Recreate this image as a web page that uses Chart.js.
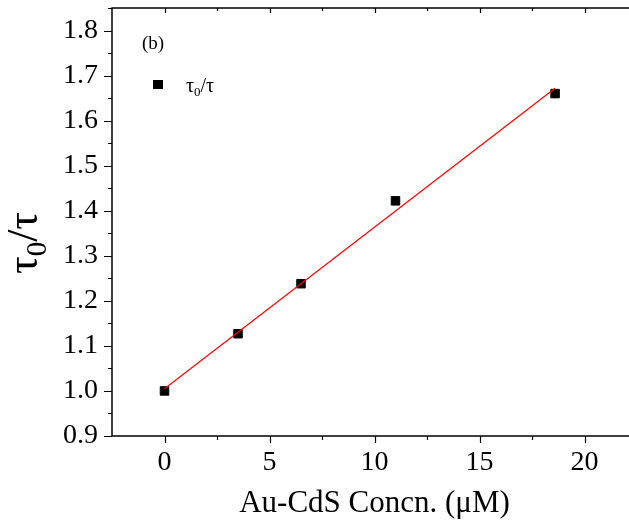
<!DOCTYPE html>
<html>
<head>
<meta charset="utf-8">
<script src="https://cdn.jsdelivr.net/npm/chart.js@4.4.1/dist/chart.umd.min.js"></script>
<style>
  html, body { margin: 0; padding: 0; background: #fff; overflow: hidden; }
  #wrap { width: 645px; height: 528px; }
</style>
</head>
<body>
<div id="wrap"><canvas id="tau-chart" width="645" height="528"></canvas></div>
<script>
// Au-CdS concentration (uM) and lifetime ratio tau0/tau
const concentrations = [0, 3.5, 6.5, 11, 18.6]
const tauRatio = [1.0, 1.127, 1.238, 1.422, 1.66]

// Linear fit drawn through the points
const fitX = [0, 18.6]
const fitY = [1.005, 1.672]

const xTicks = [0, 5, 10, 15, 20]
const yTicks = [0.9, 1.0, 1.1, 1.2, 1.3, 1.4, 1.5, 1.6, 1.7, 1.8]

const SERIF = "'Liberation Serif', 'Times New Roman', serif"

// draws text like "τ0/τ" with the 0 as a subscript
function drawTauRatio(ctx, x, y, size, align) {
  const big = size + "px " + SERIF
  const small = Math.round(size * 0.65) + "px " + SERIF
  ctx.font = big
  const w1 = ctx.measureText("τ").width
  const w3 = ctx.measureText("/τ").width
  ctx.font = small
  const w2 = ctx.measureText("0").width
  let start = x
  if (align === "center") start = x - (w1 + w2 + w3) / 2
  ctx.textAlign = "left"
  ctx.textBaseline = "alphabetic"
  ctx.font = big
  ctx.fillText("τ", start, y)
  ctx.font = small
  ctx.fillText("0", start + w1, y + size * 0.2)
  ctx.font = big
  ctx.fillText("/τ", start + w1 + w2, y)
}

const framePlugin = {
  id: "frame",
  afterDraw(chart) {
    const { ctx, chartArea: a, scales } = chart
    const xs = scales.x, ys = scales.y
    ctx.save()
    ctx.strokeStyle = "#000"
    ctx.lineWidth = 1.5
    ctx.strokeRect(a.left, a.top, a.right - a.left, a.bottom - a.top)

    ctx.lineWidth = 1.2
    ctx.beginPath()
    // x ticks: major/minor outward at bottom, inward at top
    for (let v = 0; v <= 22.5; v += 2.5) {
      const px = Math.round(xs.getPixelForValue(v)) + 0.5
      const major = v % 5 === 0
      ctx.moveTo(px, a.bottom)
      ctx.lineTo(px, a.bottom + (major ? 7 : 4))
      ctx.moveTo(px, a.top)
      ctx.lineTo(px, a.top + (major ? 5 : 3))
    }
    for (let i = 0; i <= 19; i++) {
      const v = 0.9 + i * 0.05
      const py = Math.round(ys.getPixelForValue(v)) + 0.5
      const major = i % 2 === 0
      ctx.moveTo(a.left, py)
      ctx.lineTo(a.left - (major ? 8 : 4), py)
    }
    ctx.stroke()

    // y axis title
    ctx.fillStyle = "#000"
    ctx.save()
    ctx.translate(37, 243)
    ctx.rotate(-Math.PI / 2)
    drawTauRatio(ctx, 0, 0, 44, "center")
    ctx.restore()

    // panel label
    ctx.font = "19px " + SERIF
    ctx.textAlign = "left"
    ctx.fillText("(b)", 142, 49)

    // legend
    ctx.fillRect(153, 80, 10, 9)
    drawTauRatio(ctx, 186, 92, 20, "left")
    ctx.restore()
  }
}

new Chart(document.getElementById("tau-chart"), {
  data: {
    datasets: [
      {
        type: "line",
        label: "fit",
        data: fitX.map((x, i) => ({ x, y: fitY[i] })),
        borderColor: "#ff0000",
        borderWidth: 1.2,
        pointRadius: 0,
        fill: false
      },
      {
        type: "scatter",
        label: "τ0/τ",
        data: concentrations.map((x, i) => ({ x, y: tauRatio[i] })),
        pointStyle: "rect",
        pointRadius: 6,
        borderWidth: 1,
        borderColor: "#000",
        backgroundColor: "#000"
      }
    ]
  },
  options: {
    responsive: false,
    animation: false,
    layout: { padding: { top: 8, right: 8, left: 0, bottom: 0 } },
    plugins: { legend: { display: false }, tooltip: { enabled: false } },
    scales: {
      x: {
        type: "linear",
        min: -2.5,
        max: 22.5,
        afterBuildTicks: s => { s.ticks = xTicks.map(v => ({ value: v })) },
        afterFit: s => { s.height = 92; s.paddingLeft = 0; s.paddingRight = 0 },
        grid: { display: false, drawTicks: false },
        border: { display: false },
        ticks: {
          padding: 10,
          color: "#000",
          font: { family: SERIF, size: 28 },
          callback: v => String(v)
        },
        title: {
          display: true,
          text: "Au-CdS Concn. (μM)",
          color: "#000",
          font: { family: SERIF, size: 31 },
          padding: { top: 0, bottom: 6 }
        }
      },
      y: {
        type: "linear",
        min: 0.9,
        max: 1.85,
        afterBuildTicks: s => { s.ticks = yTicks.map(v => ({ value: v })) },
        afterFit: s => { s.width = 112; s.paddingTop = 0; s.paddingBottom = 0 },
        grid: { display: false, drawTicks: false },
        border: { display: false },
        ticks: {
          padding: 14,
          color: "#000",
          font: { family: SERIF, size: 28 },
          callback: v => v.toFixed(1)
        }
      }
    }
  },
  plugins: [framePlugin]
})
</script>
</body>
</html>
